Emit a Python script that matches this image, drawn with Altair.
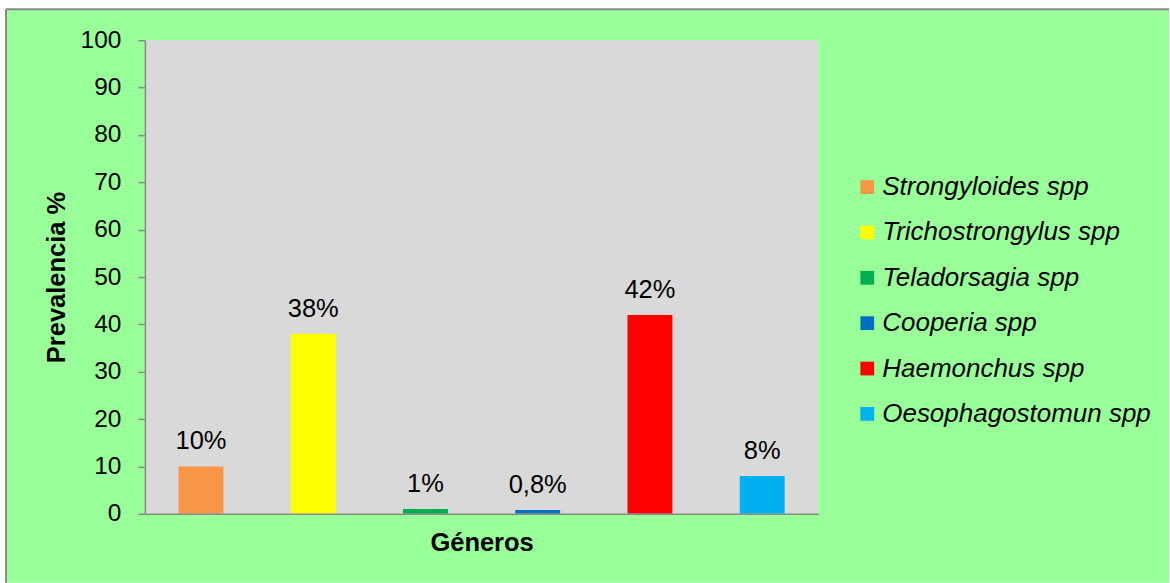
import altair as alt
import pandas as pd

# Prevalence of gastrointestinal nematode genera
generos = [
    "Strongyloides spp",
    "Trichostrongylus spp",
    "Teladorsagia spp",
    "Cooperia spp",
    "Haemonchus spp",
    "Oesophagostomun spp",
]
prevalencia = [10, 38, 1, 0.8, 42, 8]
etiquetas = ["10%", "38%", "1%", "0,8%", "42%", "8%"]
colores = ["#F79646", "#FFFF00", "#00B050", "#0070C0", "#FF0000", "#00B0F0"]
y_ticks = list(range(0, 101, 10))

FONT = "Liberation Sans"
GRIS = "#8A8A8A"
W, H = 674, 474

df = pd.DataFrame({"genero": generos, "valor": prevalencia, "etiqueta": etiquetas})
uno = pd.DataFrame({"k": [0]})

# Decorative frame: green panel with a grey border on its left and top edges
fondo = alt.Chart(uno).mark_rect(color="#99FF99").encode(
    x=alt.value(-139), x2=alt.value(1025), y=alt.value(-31), y2=alt.value(543)
)
borde_izq = alt.Chart(uno).mark_rule(color=GRIS, strokeWidth=2).encode(
    x=alt.value(-139), y=alt.value(-31), y2=alt.value(543)
)
borde_sup = alt.Chart(uno).mark_rule(color=GRIS, strokeWidth=2).encode(
    x=alt.value(-139), x2=alt.value(1025), y=alt.value(-31)
)
area = alt.Chart(uno).mark_rect(color="#D9D9D9").encode(
    x=alt.value(0), x2=alt.value("width"), y=alt.value(0), y2=alt.value("height")
)

x_enc = alt.X(
    "genero:N",
    sort=generos,
    scale=alt.Scale(paddingInner=0.6, paddingOuter=0.3),
    axis=alt.Axis(
        title="Géneros",
        labels=False,
        ticks=False,
        grid=False,
        domainColor=GRIS,
        domainWidth=1.5,
        titleFont=FONT,
        titleFontSize=25.5,
        titleFontWeight="bold",
        titleColor="black",
        titleBaseline="alphabetic",
        titleX=W / 2,
        titleY=36.5,
        zindex=1,
    ),
)
y_enc = alt.Y(
    "valor:Q",
    scale=alt.Scale(domain=[0, 100], nice=False),
    axis=alt.Axis(
        title="Prevalencia %",
        values=y_ticks,
        grid=False,
        domainColor=GRIS,
        domainWidth=1.5,
        tickColor=GRIS,
        tickWidth=1.5,
        tickSize=7,
        labelPadding=17,
        labelFont=FONT,
        labelFontSize=24.5,
        labelColor="black",
        titleFont=FONT,
        titleFontSize=25.5,
        titleFontWeight="bold",
        titleColor="black",
        titleBaseline="alphabetic",
        titleAngle=270,
        titleX=-80,
        titleY=H / 2,
        zindex=1,
    ),
)

barras = alt.Chart(df).mark_bar().encode(
    x=x_enc,
    y=y_enc,
    color=alt.Color(
        "genero:N",
        sort=generos,
        scale=alt.Scale(domain=generos, range=colores),
        title=None,
        legend=alt.Legend(
            orient="none",
            legendX=710,
            legendY=134,
            padding=0,
            symbolType="square",
            symbolSize=190,
            symbolStrokeWidth=0,
            symbolOpacity=1,
            labelFont=FONT,
            labelFontSize=26,
            labelFontStyle="italic",
            labelColor="black",
            labelOffset=2,
            rowPadding=19.4,
            labelLimit=400,
        ),
    ),
)

textos = alt.Chart(df).mark_text(
    font=FONT, fontSize=25.5, color="black", baseline="alphabetic", dy=-17
).encode(
    x=alt.X("genero:N", sort=generos),
    y=alt.Y("valor:Q"),
    text="etiqueta:N",
)

chart = (
    alt.layer(fondo, borde_izq, borde_sup, area, barras, textos)
    .properties(
        width=W,
        height=H,
        background="white",
        padding={"left": 5, "top": 8, "right": 0, "bottom": 0},
    )
    .configure_view(strokeWidth=0)
)

chart.save("out.html", embed_options={"renderer": "svg", "actions": False})
